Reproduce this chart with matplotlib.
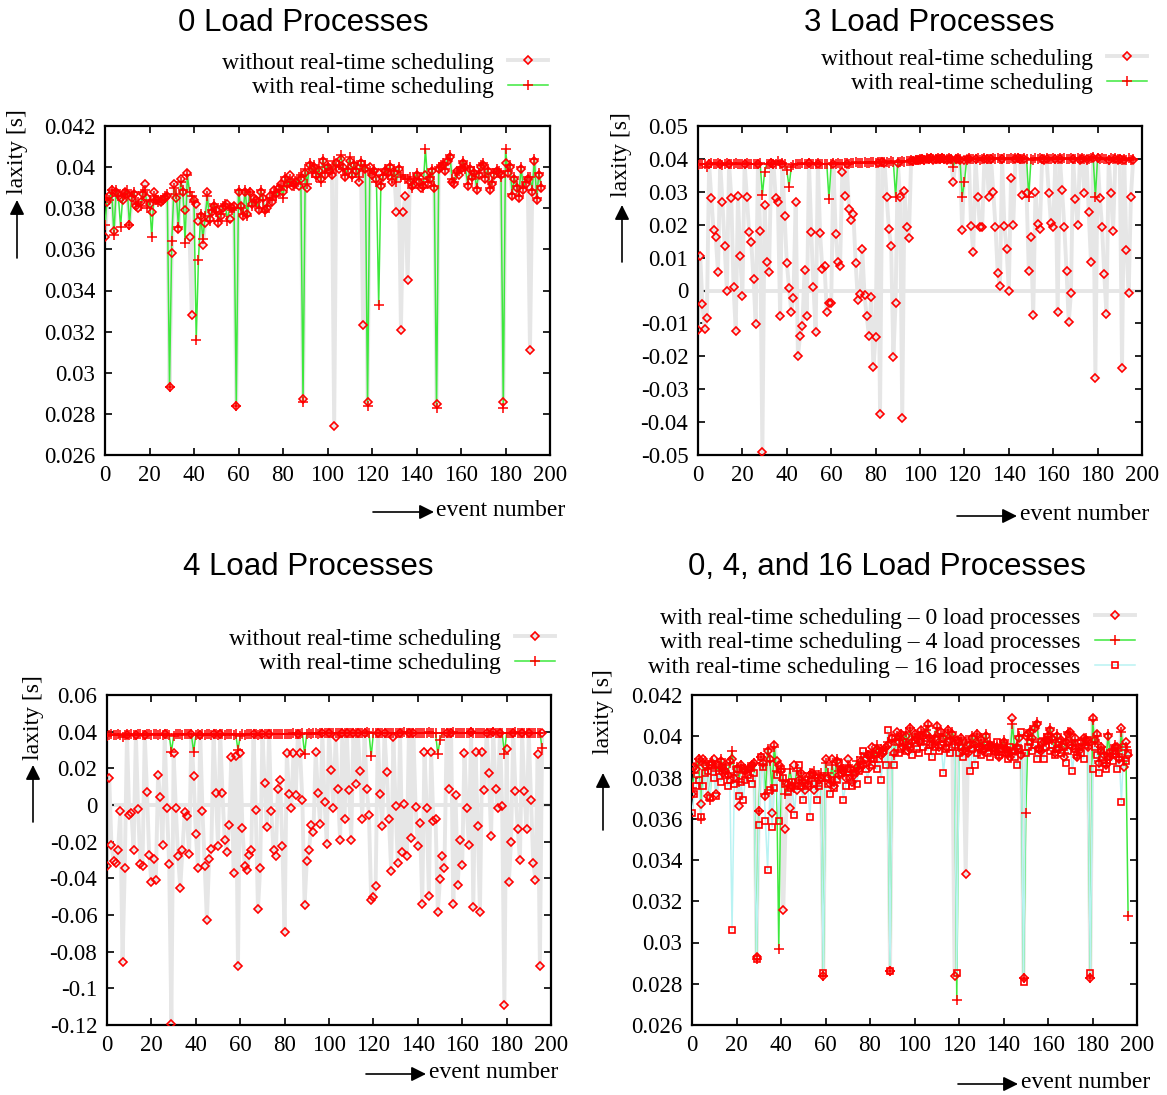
import numpy as np
import matplotlib.pyplot as plt
from matplotlib.lines import Line2D

# laxity values in milliseconds, one value per event number (0..196)

# 0 load processes
p1_without = [
    36.6, 38.3, 38.6, 38.9, 36.9, 38.8, 38.7, 38.5, 38.4, 38.8,
    38.7, 37.2, 38.5, 38.7, 38.1, 38.0, 38.3, 38.7, 39.2, 38.5,
    38.2, 37.8, 38.8, 38.4, 38.4, 38.3, 38.4, 38.5, 38.6, 29.3,
    35.8, 39.2, 38.5, 37.0, 39.4, 38.8, 37.9, 39.7, 36.6, 32.8,
    38.4, 38.2, 37.4, 37.6, 36.2, 37.3, 38.8, 37.5, 37.8, 38.1,
    37.9, 37.3, 37.6, 38.0, 38.1, 38.2, 37.5, 38.0, 38.1, 28.4,
    38.8, 38.1, 37.6, 38.8, 37.7, 38.8, 38.2, 38.5, 38.4, 37.9,
    38.8, 38.5, 37.9, 38.0, 38.6, 38.3, 38.9, 38.7, 39.0, 39.2,
    38.8, 39.4, 39.2, 39.6, 39.1, 39.2, 39.3, 39.1, 39.4, 28.7,
    39.7, 39.0, 40.1, 39.9, 40.0, 39.6, 39.8, 39.4, 40.3, 39.6,
    40.0, 39.8, 39.6, 27.4, 40.2, 39.9, 40.4, 40.0, 39.5, 39.8,
    40.3, 39.6, 40.1, 39.8, 39.3, 40.2, 32.3, 39.9, 28.6, 40.0,
    39.6, 39.8, 39.4, 39.7, 39.1, 39.5, 39.8, 39.7, 40.0, 39.3,
    39.7, 37.8, 39.9, 32.1, 37.8, 38.6, 34.5, 39.3, 39.1, 39.2,
    39.6, 39.3, 39.0, 39.1, 39.6, 39.2, 39.4, 39.8, 39.0, 28.5,
    39.9, 40.0, 40.1, 39.8, 40.3, 40.5, 39.3, 39.2, 39.8, 39.6,
    39.9, 40.2, 40.0, 39.1, 39.9, 39.5, 39.7, 38.9, 39.6, 40.0,
    40.1, 39.4, 39.8, 38.9, 39.2, 39.6, 39.8, 39.7, 39.6, 28.6,
    40.2, 39.7, 40.0, 38.6, 39.4, 39.0, 38.5, 39.9, 38.9, 39.2,
    39.4, 31.1, 38.8, 40.3, 38.4, 39.6, 39.0,
]
p1_with = [
    37.2, 38.5, 38.4, 38.9, 36.7, 38.9, 38.6, 37.1, 38.6, 38.7,
    38.9, 37.2, 38.6, 38.8, 38.2, 38.3, 38.1, 38.8, 38.9, 38.0,
    38.4, 36.6, 38.6, 38.4, 38.3, 38.4, 38.4, 38.6, 38.7, 29.3,
    36.4, 39.0, 38.7, 37.1, 39.3, 38.9, 36.3, 39.6, 38.8, 38.6,
    38.3, 31.6, 35.5, 37.7, 36.5, 37.6, 38.6, 37.4, 37.9, 38.2,
    37.8, 37.4, 37.7, 38.1, 38.2, 37.4, 38.0, 37.9, 38.0, 28.4,
    38.9, 38.0, 37.7, 38.9, 37.6, 38.8, 38.1, 38.4, 38.3, 38.0,
    38.9, 38.4, 37.8, 38.1, 38.5, 38.4, 38.8, 38.6, 38.9, 39.1,
    38.5, 39.5, 39.1, 39.4, 39.3, 39.1, 39.2, 39.5, 39.6, 28.6,
    39.9, 39.2, 40.2, 39.7, 40.1, 39.5, 40.0, 39.3, 40.4, 39.7,
    40.1, 39.9, 39.7, 40.3, 40.0, 40.1, 40.6, 39.9, 39.6, 39.9,
    40.5, 39.5, 40.2, 39.9, 39.5, 40.3, 39.8, 40.1, 28.4, 39.8,
    39.7, 39.9, 39.3, 33.3, 39.2, 39.6, 39.9, 39.6, 40.1, 39.4,
    39.8, 39.3, 40.0, 39.5, 39.6, 39.4, 39.4, 39.5, 39.0, 39.4,
    39.7, 39.4, 39.2, 39.0, 40.9, 39.3, 39.5, 39.9, 39.1, 28.3,
    40.0, 40.1, 40.2, 39.9, 40.4, 40.6, 39.4, 39.3, 39.7, 39.8,
    40.0, 40.3, 39.9, 39.2, 40.0, 39.4, 39.8, 39.0, 39.7, 40.1,
    40.2, 39.5, 39.9, 39.0, 39.3, 39.7, 39.9, 39.8, 39.5, 28.3,
    40.9, 39.8, 40.1, 38.7, 39.5, 39.1, 38.6, 40.0, 39.0, 39.3,
    39.5, 39.5, 38.9, 40.4, 38.5, 39.7, 39.1,
]

# 3 load processes
p2_without = [
    -12.0, 10.5, -4.2, -11.8, -8.5, 38.6, 28.0, 18.4, 16.2, 5.5,
    38.5, 27.0, 13.6, 0.0, 38.5, 28.2, 1.2, -12.2, 28.8, 10.6,
    -1.7, 38.5, 28.5, 17.9, 14.6, 3.5, -10.3, 38.4, 18.1, -49.0,
    26.0, 8.8, 5.5, 38.7, 38.4, 28.2, 26.8, -7.8, 38.6, 22.7,
    8.3, 0.9, -6.4, -2.2, 27.0, -19.9, -13.8, -10.8, 6.2, -7.8,
    38.7, 17.9, 1.2, -12.7, 38.5, 17.4, 6.4, 7.4, -6.4, -3.7,
    -3.9, 38.5, 17.2, 8.6, 7.4, 36.1, 28.7, 38.6, 24.7, 21.4,
    23.3, 8.5, -2.9, -1.1, 12.5, -1.4, -7.8, -13.8, -1.9, -23.4,
    -14.0, 38.9, -37.6, 39.0, 38.9, 28.3, 18.6, 13.5, -20.1, -3.7,
    38.9, 28.5, -38.7, 30.2, 19.4, 15.9, 39.5, 39.3, 39.7, 39.6,
    39.8, 40.0, 39.7, 40.1, 39.9, 40.2, 39.8, 40.0, 40.1, 39.9,
    40.2, 40.0, 39.8, 40.1, 39.9, 32.9, 39.9, 40.0, 39.8, 18.4,
    39.7, 40.0, 39.9, 19.6, 11.6, 40.0, 28.4, 19.4, 19.2, 40.1,
    39.9, 28.5, 40.0, 30.0, 19.4, 5.4, 1.5, 40.1, 19.6, 12.6,
    -0.2, 34.1, 19.8, 40.0, 40.2, 39.9, 29.0, 40.1, 29.7, 6.0,
    16.4, -7.4, 29.8, 20.2, 18.6, 40.0, 39.8, 40.1, 29.7, 20.4,
    19.4, 40.0, -6.6, 40.1, 30.5, 19.4, 6.0, -9.7, -0.7, 40.0,
    27.8, 19.9, 39.8, 40.1, 29.7, 39.9, 23.8, 8.8, 40.2, -26.5,
    40.3, 28.2, 19.4, 4.9, -7.2, 39.8, 29.7, 18.2, 40.0, 39.7,
    39.9, -23.5, 39.8, 12.3, -0.9, 28.5, 39.6,
]
p2_with = [
    38.0, 38.5, 38.6, 38.4, 37.6, 38.6, 38.7, 38.5, 38.4, 38.7,
    38.6, 38.2, 38.5, 38.7, 38.6, 38.3, 38.5, 38.8, 38.6, 38.4,
    38.5, 38.6, 38.7, 38.4, 38.6, 38.5, 38.3, 38.6, 38.7, 29.0,
    36.1, 38.6, 38.4, 38.8, 38.5, 38.6, 39.3, 38.5, 38.7, 38.6,
    36.5, 31.6, 37.4, 38.2, 38.6, 38.4, 38.5, 38.7, 38.4, 38.6,
    38.8, 38.5, 38.6, 38.3, 38.7, 38.5, 38.4, 38.6, 38.6, 27.7,
    38.5, 38.7, 38.6, 38.8, 38.5, 38.6, 38.9, 38.7, 38.6, 38.8,
    38.8, 39.0, 38.7, 38.9, 38.8, 39.1, 38.9, 38.8, 39.2, 39.0,
    38.9, 39.1, 39.2, 39.0, 39.1, 39.2, 38.9, 39.3, 39.1, 28.5,
    39.0, 39.2, 39.4, 39.1, 39.3, 39.5, 39.6, 39.4, 39.8, 39.7,
    39.9, 40.1, 39.8, 40.2, 40.0, 40.3, 39.9, 40.1, 40.2, 40.0,
    40.3, 40.1, 39.9, 40.2, 40.0, 37.6, 40.1, 40.2, 40.0, 28.5,
    32.9, 39.6, 40.2, 39.9, 40.1, 40.0, 40.2, 39.8, 40.1, 40.3,
    40.0, 40.1, 39.9, 40.2, 40.0, 40.3, 40.1, 39.9, 40.2, 40.0,
    40.1, 40.3, 39.9, 40.2, 40.4, 40.0, 39.9, 40.2, 40.1, 28.5,
    40.1, 39.8, 40.2, 40.0, 40.3, 40.1, 39.9, 40.2, 40.1, 40.0,
    40.3, 39.9, 40.1, 40.2, 40.0, 40.4, 40.1, 39.9, 40.2, 40.0,
    40.1, 40.3, 39.9, 40.2, 40.0, 39.8, 40.1, 40.3, 40.5, 28.5,
    40.4, 39.9, 40.2, 40.0, 40.1, 39.7, 40.2, 40.0, 40.3, 39.9,
    40.0, 39.6, 40.1, 39.8, 40.2, 39.7, 39.9,
]

# 4 load processes
p3_without = [
    -33.3, 15.0, -22.0, -30.7, -31.6, -24.3, -3.2, -85.4, -34.4, 38.3,
    -5.6, -4.1, -24.3, 38.2, -2.3, -32.0, -33.1, 38.4, 7.0, -27.1,
    -42.0, -29.3, -41.1, 16.3, 4.4, -21.8, 38.5, -1.9, -32.2, -119.4,
    28.1, -1.6, -28.0, -45.1, -24.3, -3.6, -6.1, -26.5, 38.6, 15.7,
    -15.8, -34.4, 38.4, -3.2, -33.1, -62.9, -29.3, -24.2, 38.6, 6.8,
    -22.3, 38.5, 6.8, -18.9, -25.8, -11.0, 26.0, -37.1, 27.0, -87.9,
    28.5, -12.5, -33.1, -35.6, -27.1, -24.3, 38.6, -2.8, -56.9, -34.4,
    38.7, 11.9, -12.0, 38.6, -3.2, -24.7, -27.8, 8.5, 13.6, -22.5,
    -69.3, 28.5, 5.9, -1.6, 28.5, 5.4, 38.9, 28.5, 2.6, -54.8,
    -30.3, -24.7, -11.0, -14.7, 29.0, 6.8, -10.1, 39.3, 1.7, -21.4,
    39.2, 19.0, -1.6, 37.2, 8.6, -19.2, 39.4, -7.9, 39.1, 8.1,
    -18.9, 39.5, 11.4, 39.4, 18.7, -7.4, 39.4, 9.0, -5.6, -52.0,
    -50.2, -44.4, 39.3, 5.9, -11.6, 39.4, 17.9, -7.4, -36.0, 36.9,
    -0.7, -31.6, 39.4, -25.6, 0.8, -27.8, 39.2, -18.0, 39.3, -1.0,
    -22.3, -9.8, -53.8, 29.0, -1.4, -49.8, 29.0, -8.7, -7.4, -58.4,
    -40.5, -28.0, -34.4, 39.2, 9.0, 39.3, -54.2, 5.4, -43.5, -18.9,
    -32.9, 28.5, -1.4, -22.0, 39.6, -55.7, 29.0, -11.4, -58.4, 29.0,
    8.1, 39.5, 17.6, -16.9, 39.6, 9.0, -1.6, 39.5, -0.7, -108.9,
    30.5, -42.0, -20.1, 39.4, 7.5, -12.9, -30.2, 39.2, 7.5, -13.2,
    39.5, 2.6, -31.6, -40.7, 27.8, -87.9, 39.4,
]
p3_with = [
    37.5, 38.3, 38.5, 38.2, 38.4, 38.6, 38.3, 37.0, 38.4, 38.5,
    38.3, 38.6, 38.4, 38.2, 38.5, 38.6, 38.3, 38.4, 38.7, 38.5,
    38.4, 38.6, 38.5, 38.3, 38.6, 38.4, 38.5, 38.7, 38.4, 29.0,
    37.5, 38.6, 38.5, 38.7, 38.4, 38.6, 38.8, 38.5, 38.6, 29.0,
    38.0, 38.5, 38.4, 38.6, 38.3, 38.5, 38.7, 38.4, 38.6, 38.5,
    38.3, 38.6, 38.5, 38.4, 38.7, 38.5, 38.6, 38.4, 38.5, 30.0,
    37.5, 38.6, 38.4, 38.7, 38.5, 38.6, 38.8, 38.5, 38.4, 38.7,
    38.6, 38.5, 38.8, 38.6, 38.7, 38.9, 38.6, 38.8, 38.7, 38.9,
    38.8, 39.0, 38.7, 38.9, 39.1, 38.8, 39.0, 38.9, 39.1, 28.0,
    39.0, 39.2, 38.9, 39.1, 39.3, 39.0, 39.2, 39.4, 39.1, 39.3,
    39.2, 39.4, 39.1, 39.3, 39.5, 39.2, 39.4, 39.3, 39.1, 39.4,
    39.3, 39.5, 39.2, 39.4, 39.3, 39.1, 39.4, 39.6, 39.3, 26.6,
    39.2, 39.4, 39.3, 39.5, 39.2, 39.4, 39.3, 39.1, 39.4, 39.3,
    39.5, 39.2, 39.4, 39.3, 39.6, 39.2, 39.4, 39.5, 39.3, 39.1,
    39.4, 39.3, 39.5, 39.2, 39.4, 39.6, 39.3, 39.4, 39.2, 27.8,
    35.4, 39.3, 39.5, 39.2, 39.4, 39.3, 39.6, 39.4, 39.2, 39.3,
    39.5, 39.4, 39.2, 39.3, 39.6, 39.4, 39.2, 39.5, 39.3, 39.4,
    39.2, 39.5, 39.3, 39.4, 39.6, 39.3, 39.2, 39.5, 39.4, 27.8,
    39.3, 39.5, 39.2, 39.4, 39.6, 39.3, 39.5, 39.2, 39.4, 39.3,
    39.5, 39.2, 39.4, 39.3, 39.1, 39.4, 30.9,
]

# with real-time scheduling, 4 and 16 load processes (0 load is p1_with)
p4_load4 = [
    37.5, 38.2, 38.6, 38.9, 36.0, 38.7, 38.8, 38.4, 36.9, 38.8,
    38.6, 38.3, 38.5, 38.9, 38.4, 38.6, 38.2, 38.7, 39.3, 38.1,
    38.5, 37.8, 38.6, 38.2, 38.4, 38.5, 38.3, 38.6, 38.7, 29.2,
    36.4, 39.0, 38.6, 37.2, 39.4, 38.8, 37.4, 39.5, 38.3, 29.7,
    38.4, 37.9, 37.2, 37.6, 38.4, 37.7, 37.5, 38.3, 37.9, 38.2,
    37.6, 37.9, 37.7, 38.2, 38.0, 38.3, 37.6, 38.1, 38.2, 28.4,
    38.7, 38.2, 37.9, 38.6, 37.8, 38.9, 38.3, 38.5, 38.4, 38.1,
    38.6, 38.5, 38.1, 38.3, 38.8, 38.4, 39.0, 38.7, 39.2, 39.1,
    38.8, 39.3, 39.0, 39.6, 39.2, 39.4, 39.3, 39.5, 39.7, 28.6,
    39.8, 39.1, 40.0, 39.8, 40.1, 39.6, 40.2, 39.5, 40.4, 39.8,
    40.1, 39.9, 39.7, 40.2, 40.0, 40.3, 40.5, 39.9, 39.6, 40.0,
    40.4, 39.7, 40.1, 40.0, 39.6, 40.3, 39.9, 40.2, 39.8, 27.2,
    39.6, 39.9, 39.4, 39.8, 39.3, 39.7, 40.0, 39.5, 40.1, 39.6,
    39.8, 39.4, 40.1, 39.6, 39.7, 39.5, 39.3, 39.6, 39.1, 39.5,
    39.8, 39.5, 39.1, 39.2, 40.6, 39.4, 39.6, 40.0, 39.2, 28.3,
    36.3, 40.0, 40.3, 39.8, 40.5, 40.7, 39.5, 39.3, 39.9, 39.7,
    40.1, 40.4, 39.8, 39.3, 40.1, 39.5, 39.7, 39.2, 39.8, 40.2,
    40.1, 39.6, 39.8, 39.1, 39.4, 39.6, 39.8, 39.9, 39.6, 28.3,
    40.8, 39.7, 40.0, 38.8, 39.5, 39.2, 38.7, 40.1, 39.0, 39.4,
    39.6, 39.3, 39.0, 40.2, 38.8, 39.5, 31.3,
]
p4_load16 = [
    36.3, 37.2, 37.6, 37.9, 36.1, 37.6, 38.2, 38.3, 37.0, 38.6,
    38.0, 37.1, 38.3, 37.8, 38.5, 38.1, 37.6, 37.9, 30.6, 37.7,
    38.4, 37.1, 37.8, 36.9, 37.9, 38.1, 38.0, 37.7, 38.2, 29.2,
    35.7, 39.0, 38.5, 35.9, 33.5, 37.4, 35.6, 37.5, 38.1, 35.9,
    38.4, 38.0, 37.7, 37.3, 37.5, 37.8, 36.2, 37.6, 38.6, 37.6,
    36.9, 37.9, 37.6, 36.1, 38.1, 37.7, 36.9, 37.6, 38.0, 28.5,
    38.0, 37.7, 37.2, 37.9, 37.5, 37.9, 38.7, 38.2, 36.9, 37.6,
    38.4, 38.0, 37.6, 38.2, 37.7, 38.3, 38.6, 39.3, 38.4, 37.9,
    39.1, 38.6, 38.9, 38.4, 38.9, 37.9, 39.3, 38.6, 40.3, 28.6,
    39.9, 38.6, 39.7, 39.2, 39.4, 39.7, 39.3, 39.6, 39.5, 39.1,
    39.8, 39.4, 39.2, 39.7, 39.5, 39.9, 39.3, 39.6, 39.0, 39.5,
    39.8, 39.3, 39.6, 38.2, 39.4, 39.7, 39.2, 39.5, 39.6, 28.5,
    39.2, 39.5, 39.0, 39.3, 39.6, 38.3, 39.4, 38.6, 39.2, 39.5,
    39.1, 39.4, 39.6, 39.2, 39.0, 39.5, 39.3, 39.7, 39.1, 39.4,
    39.6, 39.2, 38.9, 39.5, 39.3, 39.0, 38.6, 39.4, 40.2, 28.1,
    39.2, 39.5, 39.7, 39.3, 39.6, 38.9, 39.4, 39.7, 38.9, 39.5,
    39.8, 39.3, 39.6, 39.1, 39.4, 39.7, 39.2, 39.5, 38.7, 39.3,
    39.6, 38.3, 39.4, 39.1, 39.5, 39.2, 38.9, 39.6, 39.8, 28.5,
    38.4, 39.5, 39.1, 38.2, 39.3, 38.7, 38.4, 39.0, 39.2, 38.8,
    39.3, 38.4, 39.0, 36.8, 39.5, 38.8, 39.2,
]

titles = ['0 Load Processes', '3 Load Processes', '4 Load Processes',
          '0, 4, and 16 Load Processes']
lbl_without = 'without real-time scheduling'
lbl_with = 'with real-time scheduling'
lbl_p4 = ['with real-time scheduling \u2013 0 load processes',
          'with real-time scheduling \u2013 4 load processes',
          'with real-time scheduling \u2013 16 load processes']

W, H = 1167, 1095
GRAY = '#e6e6e6'
GREEN = '#3de83d'
CYAN = '#b9f3f3'
RED = '#ff0000'
SERIF = 'Liberation Serif'
SANS = 'Liberation Sans'

plt.rcParams['font.family'] = [SERIF, 'DejaVu Serif']


def fx(px):
    return px / W


def fy(py):
    return 1 - py / H


def ms(vals):
    return np.array(vals) / 1000.0


def style_axes(ax, ylim, yticks):
    ax.set_xlim(0, 200)
    ax.set_ylim(*ylim)
    ax.set_xticks(np.arange(0, 201, 20))
    ax.set_yticks(yticks)
    ax.set_yticklabels(['%g' % t for t in yticks])
    ax.tick_params(direction='in', length=5, width=1.2, top=True, right=True,
                   labelsize=16.5, pad=7)
    for sp in ax.spines.values():
        sp.set_linewidth(1.6)


ARROW = dict(arrowstyle='-|>', color='black', lw=1.2, mutation_scale=22,
             shrinkA=0, shrinkB=0)


def draw_labels(ylab_x, ylab_y, arr_y, xl_x, xl_y, arr_x):
    fig.text(fx(ylab_x), fy(ylab_y), 'laxity [s]', rotation=90, ha='center',
             va='center', fontsize=17)
    fig.text(fx(xl_x), fy(xl_y), 'event number', ha='left', va='center',
             fontsize=17)
    fig.add_artist(plt.Annotation('', xy=(fx(ylab_x), fy(arr_y[1])),
                                  xytext=(fx(ylab_x), fy(arr_y[0])),
                                  xycoords='figure fraction',
                                  textcoords='figure fraction', arrowprops=ARROW))
    fig.add_artist(plt.Annotation('', xy=(fx(arr_x[1]), fy(xl_y + 2)),
                                  xytext=(fx(arr_x[0]), fy(xl_y + 2)),
                                  xycoords='figure fraction',
                                  textcoords='figure fraction', arrowprops=ARROW))


def add_legend(ax, handles, labels, right, top):
    ax.legend(handles, labels, loc='upper right',
              bbox_to_anchor=(fx(right), fy(top)), bbox_transform=fig.transFigure,
              markerfirst=False, frameon=False, numpoints=1,
              prop={'family': SERIF, 'size': 17}, handlelength=1.7,
              handletextpad=0.6, labelspacing=0.14, borderpad=0, borderaxespad=0)


def h_without():
    return Line2D([], [], color=GRAY, lw=2.8, marker='D', ms=4.5, mfc='none',
                  mec=RED, mew=1.2)


def h_with():
    return Line2D([], [], color=GREEN, lw=1.1, marker='+', ms=7, mec=RED, mew=1.1)


def h_16():
    return Line2D([], [], color=CYAN, lw=1.1, marker='s', ms=5, mfc='none',
                  mec=RED, mew=1.2)


fig = plt.figure(figsize=(W / 100, H / 100), dpi=100)

boxes = [(105, 550, 126, 455), (698, 1142, 126, 455),
         (107, 551, 695, 1025), (692, 1137, 695, 1025)]
axes = []
for (l, r, t, b) in boxes:
    axes.append(fig.add_axes([fx(l), fy(b), (r - l) / W, (b - t) / H]))


def plot_pair(ax, without, with_):
    x = np.arange(len(without))
    ax.plot(x, ms(without), color=GRAY, lw=2.8, zorder=2)
    ax.plot(x, ms(without), ls='none', marker='D', ms=4.5, mfc='none', mec=RED,
            mew=1.2, zorder=5)
    x2 = np.arange(len(with_))
    ax.plot(x2, ms(with_), color=GREEN, lw=1.1, zorder=3)
    ax.plot(x2, ms(with_), ls='none', marker='+', ms=7, mec=RED, mew=1.1, zorder=6)


# panel 1
ax = axes[0]
plot_pair(ax, p1_without, p1_with)
style_axes(ax, (0.026, 0.042), np.round(np.arange(0.026, 0.0421, 0.002), 3))
add_legend(ax, [h_without(), h_with()], [lbl_without, lbl_with], 548, 52)

# panel 2
ax = axes[1]
ax.axhline(0, color=GRAY, lw=2.8, zorder=1)
plot_pair(ax, p2_without, p2_with)
style_axes(ax, (-0.05, 0.05), np.round(np.arange(-0.05, 0.0501, 0.01), 3))
add_legend(ax, [h_without(), h_with()], [lbl_without, lbl_with], 1147, 48)

# panel 3
ax = axes[2]
ax.axhline(0, color=GRAY, lw=2.8, zorder=1)
plot_pair(ax, p3_without, p3_with)
style_axes(ax, (-0.12, 0.06), np.round(np.arange(-0.12, 0.0601, 0.02), 3))
add_legend(ax, [h_without(), h_with()], [lbl_without, lbl_with], 555, 628)

# panel 4
ax = axes[3]
x = np.arange(len(p1_with))
ax.plot(x, ms(p1_with), color=GRAY, lw=2.8, zorder=2)
ax.plot(x, ms(p1_with), ls='none', marker='D', ms=4.5, mfc='none', mec=RED,
        mew=1.2, zorder=5)
ax.plot(x, ms(p4_load4), color=GREEN, lw=1.1, zorder=3)
ax.plot(x, ms(p4_load4), ls='none', marker='+', ms=7, mec=RED, mew=1.1, zorder=6)
ax.plot(x, ms(p4_load16), color=CYAN, lw=1.1, zorder=4)
ax.plot(x, ms(p4_load16), ls='none', marker='s', ms=5, mfc='none', mec=RED,
        mew=1.2, zorder=7)
style_axes(ax, (0.026, 0.042), np.round(np.arange(0.026, 0.0421, 0.002), 3))
add_legend(ax, [h_without(), h_with(), h_16()], lbl_p4, 1135, 607)

# titles
for t, (cx, cy) in zip(titles, [(303, 23), (929, 23), (308, 567), (887, 567)]):
    fig.text(fx(cx), fy(cy), t, ha='center', va='center', fontsize=22.5,
             family=SANS)

# axis labels with arrows
draw_labels(17, 152, (258, 200), 436, 510, (373, 434))
draw_labels(622, 155, (262, 205), 1020, 514, (957, 1017))
draw_labels(33, 718, (822, 765), 429, 1072, (366, 426))
draw_labels(603, 712, (830, 773), 1021, 1082, (958, 1018))

fig.savefig('out.png', dpi=100)
